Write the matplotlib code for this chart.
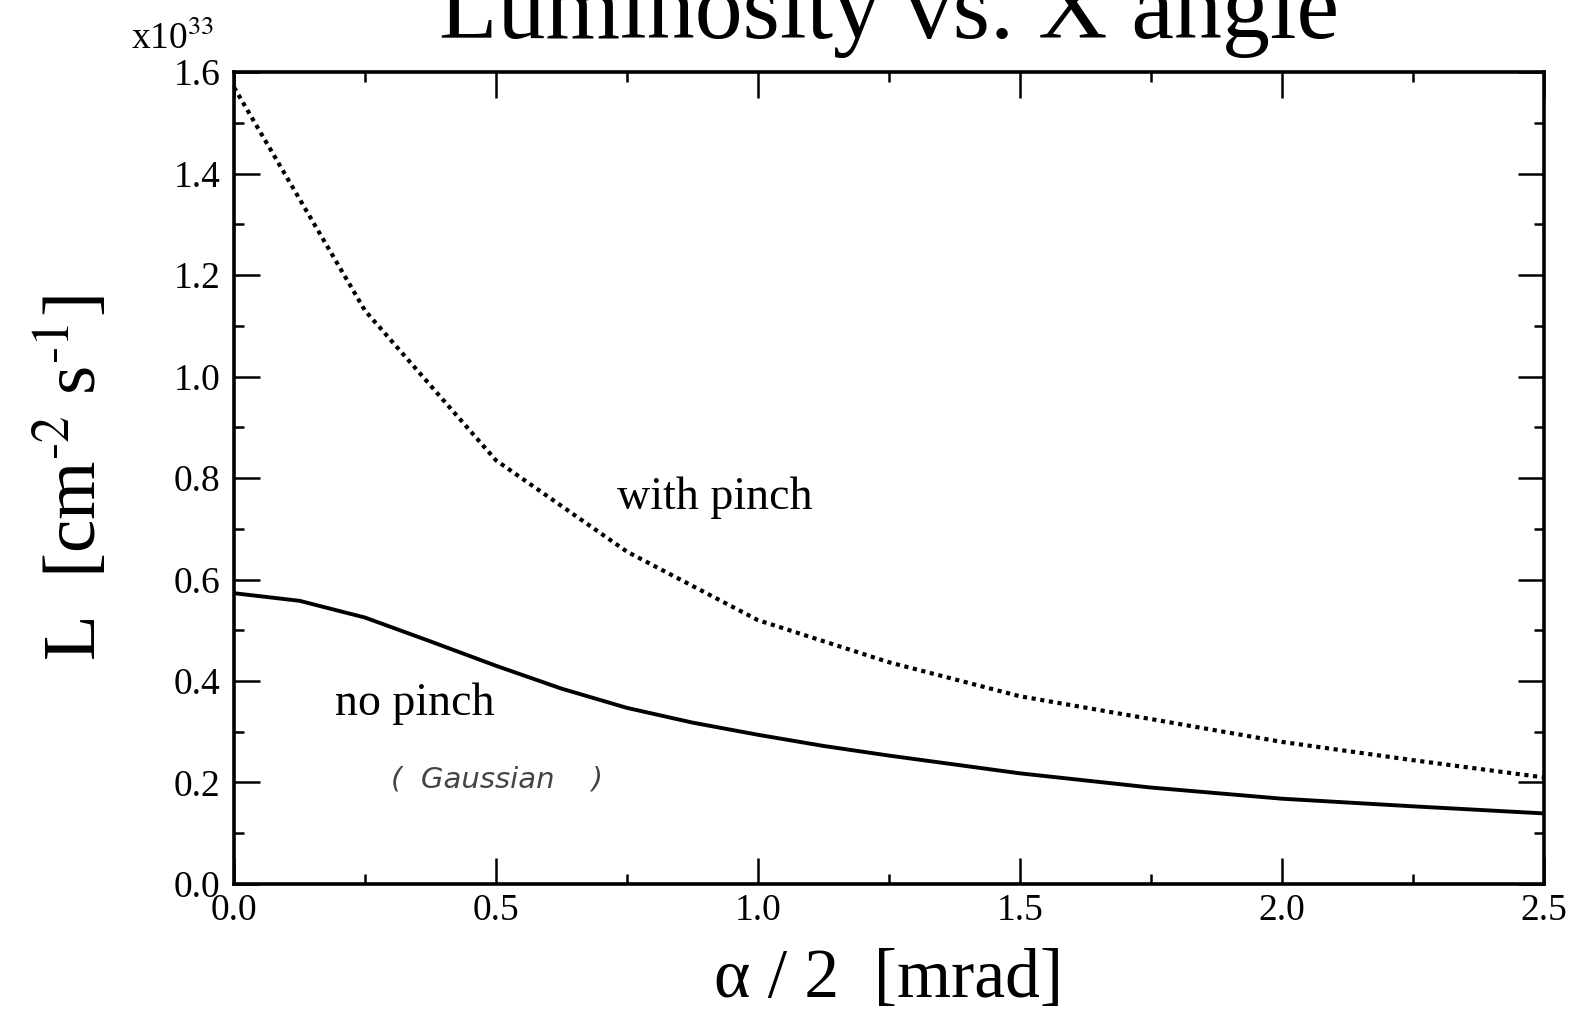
import matplotlib.pyplot as plt
from matplotlib.ticker import MultipleLocator

plt.rcParams['font.family'] = ['Liberation Serif', 'DejaVu Serif']
plt.rcParams['mathtext.fontset'] = 'stix'

# half crossing angle [mrad]
angle_pinch = [0.0, 0.25, 0.5, 0.75, 1.0, 1.25, 1.5, 1.75, 2.0, 2.25, 2.5]
# luminosity with pinch, units of 1e33 cm^-2 s^-1
lum_pinch = [1.57, 1.13, 0.835, 0.655, 0.52, 0.437, 0.37, 0.325, 0.28, 0.244, 0.21]

angle_gauss = [0.0, 0.125, 0.25, 0.375, 0.5, 0.625, 0.75, 0.875, 1.0, 1.125,
               1.25, 1.5, 1.75, 2.0, 2.25, 2.5]
# luminosity without pinch (gaussian)
lum_nopinch = [0.573, 0.558, 0.525, 0.478, 0.430, 0.385, 0.347, 0.318, 0.294, 0.272,
               0.253, 0.218, 0.19, 0.168, 0.153, 0.139]

fig = plt.figure(figsize=(15.75, 10.16), dpi=100)
ax = fig.add_axes([0.1486, 0.130, 0.8314, 0.799])

ax.plot(angle_pinch, lum_pinch, color='black', lw=3.0, linestyle=(0, (1, 1.1)))
ax.plot(angle_gauss, lum_nopinch, color='black', lw=2.8)

ax.set_xlim(0, 2.5)
ax.set_ylim(0, 1.6)
ax.xaxis.set_major_locator(MultipleLocator(0.5))
ax.xaxis.set_minor_locator(MultipleLocator(0.25))
ax.yaxis.set_major_locator(MultipleLocator(0.2))
ax.yaxis.set_minor_locator(MultipleLocator(0.1))
ax.xaxis.set_major_formatter(lambda v, p: f'{v:.1f}')
ax.yaxis.set_major_formatter(lambda v, p: f'{v:.1f}')
ax.tick_params(which='both', direction='in', top=True, right=True, width=1.8,
               labelsize=27, colors='black')
ax.tick_params(which='major', length=19)
ax.tick_params(which='minor', length=7)
ax.tick_params(axis='x', pad=7)
ax.tick_params(axis='y', pad=10)
for s in ax.spines.values():
    s.set_linewidth(2.6)

ax.set_xlabel('α / 2  [mrad]', fontsize=50, labelpad=15)
ax.set_ylabel(r'L  [cm$^{\text{-2}}$ s$^{\text{-1}}$]', fontsize=54)
ax.yaxis.set_label_coords(-0.093, 0.5)

ax.text(0.732, 0.762, 'with pinch', fontsize=33, va='center')
ax.text(0.192, 0.356, 'no pinch', fontsize=33, va='center')
ax.text(0.30, 0.205, '(  Gaussian    )', fontsize=21, va='center', style='italic',
        family=['DejaVu Sans'], color='#444444')

fig.text(0.083, 0.952, r'x10$^{33}$', fontsize=27)
fig.text(0.5645, 0.9626, 'Luminosity vs. X angle', fontsize=69, ha='center', va='baseline')

fig.savefig('out.png', dpi=100)
